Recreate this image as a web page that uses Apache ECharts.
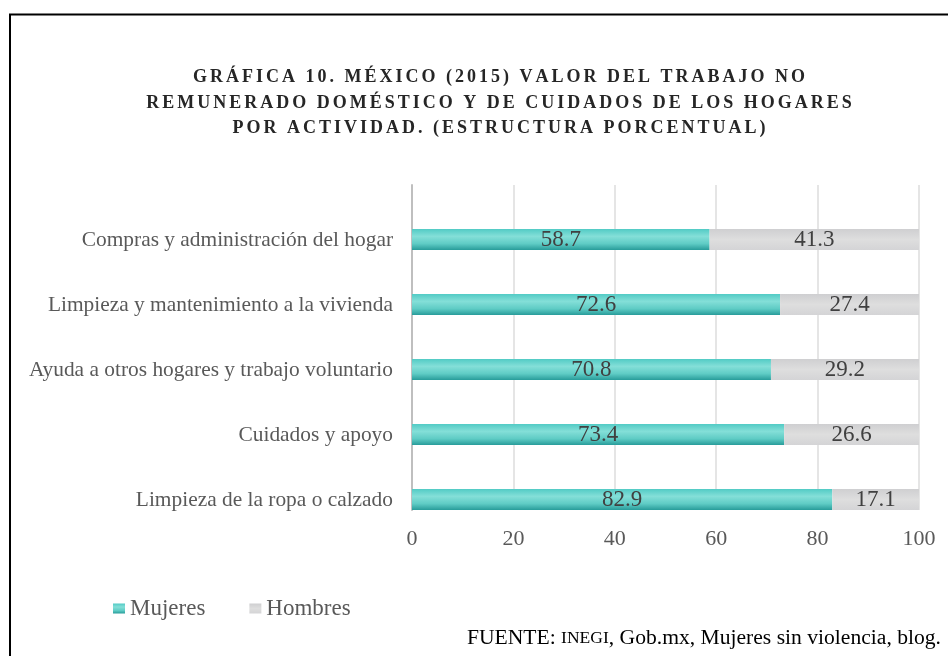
<!DOCTYPE html>
<html>
<head>
<meta charset="utf-8">
<script src="https://cdn.jsdelivr.net/npm/echarts@6/dist/echarts.min.js"></script>
<style>
  html, body { margin: 0; padding: 0; background: #fff; }
  #chart { width: 948px; height: 656px; }
</style>
</head>
<body>
<div id="chart"></div>
<script>
// categorias (de arriba hacia abajo)
const categorias = [
  "Compras y administración del hogar",
  "Limpieza y mantenimiento a la vivienda",
  "Ayuda a otros hogares y trabajo voluntario",
  "Cuidados y apoyo",
  "Limpieza de la ropa o calzado"
];
const mujeres = [58.7, 72.6, 70.8, 73.4, 82.9];
const hombres = [41.3, 27.4, 29.2, 26.6, 17.1];
const ticks = [0, 20, 40, 60, 80, 100];

const serif = "'Liberation Serif', 'Times New Roman', serif";

// espaciado entre letras del título (espacio de sexto de em)
const espaciar = (s) => s.split("").join("\u2006");
const titulo = [
  "GRÁFICA 10. MÉXICO (2015) VALOR DEL TRABAJO NO",
  "REMUNERADO DOMÉSTICO Y DE CUIDADOS DE LOS HOGARES",
  "POR ACTIVIDAD. (ESTRUCTURA PORCENTUAL)"
].map(espaciar).join("\n");

const myChart = echarts.init(document.getElementById("chart"));

// degradado turquesa de las barras de mujeres
const verde = new echarts.graphic.LinearGradient(0, 0, 0, 1, [
  { offset: 0, color: "#52cbc5" },
  { offset: 0.35, color: "#84dfd8" },
  { offset: 0.7, color: "#5fccc5" },
  { offset: 1, color: "#289c9a" }
]);
const gris = new echarts.graphic.LinearGradient(0, 0, 0, 1, [
  { offset: 0, color: "#cfcfd1" },
  { offset: 0.5, color: "#dedede" },
  { offset: 1, color: "#d4d4d6" }
]);

const etiqueta = {
  show: true,
  position: "inside",
  fontFamily: serif,
  fontSize: 23,
  color: "#404040",
  formatter: (p) => p.value.toFixed(1)
};

const option = {
  animation: false,
  title: {
    text: titulo,
    left: 494,
    textAlign: "center",
    top: 60,
    textStyle: {
      fontFamily: serif,
      fontWeight: "bold",
      fontSize: 18,
      lineHeight: 25.5,
      color: "#262626"
    }
  },
  legend: {
    left: 108,
    top: 592,
    itemWidth: 12,
    itemHeight: 10,
    itemGap: 44,
    icon: "rect",
    data: ["Mujeres", "Hombres"],
    textStyle: { fontFamily: serif, fontSize: 23, color: "#595959" }
  },
  grid: { left: 412, right: 29, top: 185, bottom: 146 },
  xAxis: {
    type: "value",
    min: ticks[0],
    max: ticks[ticks.length - 1],
    interval: 20,
    axisLine: { show: false },
    axisTick: { show: false },
    axisLabel: { fontFamily: serif, fontSize: 22, color: "#595959", margin: 18 },
    splitLine: { lineStyle: { color: "#dcdcdc", width: 1.5 } }
  },
  yAxis: {
    type: "category",
    inverse: true,
    data: categorias,
    axisLine: { lineStyle: { color: "#bfbfbf", width: 2 } },
    axisTick: { show: false },
    axisLabel: {
      fontFamily: serif,
      fontSize: 21.4,
      color: "#595959",
      margin: 19,
      verticalAlign: "top",
      lineHeight: 45
    }
  },
  series: [
    {
      // serie vacía para bajar las barras dentro de cada banda
      name: "pad",
      type: "bar",
      stack: "pad",
      barWidth: 44,
      barGap: "0%",
      silent: true,
      data: categorias.map(() => "-")
    },
    {
      name: "Mujeres",
      type: "bar",
      stack: "total",
      barWidth: 21,
      itemStyle: { color: verde },
      label: etiqueta,
      data: mujeres
    },
    {
      name: "Hombres",
      type: "bar",
      stack: "total",
      barWidth: 21,
      itemStyle: { color: gris },
      label: etiqueta,
      data: hombres
    }
  ],
  graphic: [
    {
      type: "rect",
      shape: { x: 10, y: 14.5, width: 960, height: 700 },
      style: { fill: "none", stroke: "#000", lineWidth: 2 },
      silent: true
    },
    {
      type: "text",
      right: 7,
      top: 627,
      style: {
        text: "{a|FUENTE: }{b|INEGI}{a|, Gob.mx, Mujeres sin violencia, blog.}",
        rich: {
          a: { fontFamily: serif, fontSize: 21.6, color: "#000" },
          b: { fontFamily: serif, fontSize: 17.5, color: "#000" }
        }
      }
    }
  ]
};

option && myChart.setOption(option);
</script>
</body>
</html>
